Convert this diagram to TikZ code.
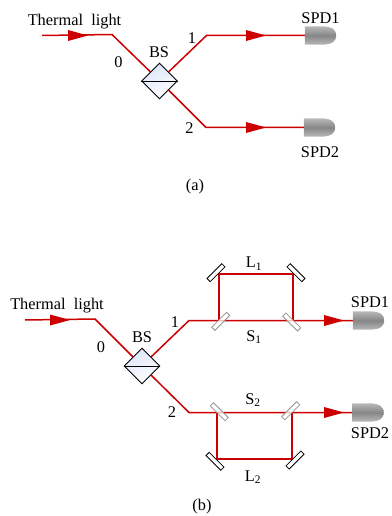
\documentclass[tikz,border=0pt]{standalone}
\usepackage{fontspec}
\setmainfont{Liberation Serif}
\usetikzlibrary{shapes.geometric,arrows.meta,calc}
\definecolor{beamred}{HTML}{CC0000}
\definecolor{bsblue}{HTML}{DCE5F8}
\tikzset{
  x=1bp,y=-1bp,
  beam/.style={draw=beamred,line width=1.5bp,line join=miter},
  loopbeam/.style={draw=beamred,line width=2bp,line join=miter},
  head/.style={fill=beamred,draw=none},
  lbl/.style={inner sep=0pt,font=\fontsize{16.4}{18}\selectfont},
  bsbox/.style={diamond,draw=black,line width=0.9pt,minimum width=36bp,minimum height=36bp,inner sep=0pt,shading=axis,left color=bsblue,right color=white,shading angle=25},
  mirror/.style={rectangle,draw=black,fill=white,line width=0.8pt,minimum width=21bp,minimum height=4.5bp,inner sep=0pt},
  split/.style={rectangle,draw=gray!85,fill=white,fill opacity=0.75,line width=0.8pt,minimum width=21bp,minimum height=4.5bp,inner sep=0pt},
  det/.style={rectangle,minimum width=31bp,minimum height=18bp,inner sep=0pt,draw=none},
}
\newcommand{\detshape}[1]{%
  \shade[top color=gray!55,bottom color=gray!55,middle color=gray!95!white]
    ($(#1.south west)$) -- ($(#1.north west)$) -- ($(#1.north west)+(16,0)$)
    .. controls ($(#1.north east)+(-4,0)$) and ($(#1.east)+(0,-6)$) .. (#1.east)
    .. controls ($(#1.east)+(0,6)$) and ($(#1.south east)+(-4,0)$) .. ($(#1.south west)+(16,0)$) -- cycle;}
\newcommand{\headat}[2]{\fill[head] (#1,#2-5.5) -- (#1+20,#2) -- (#1,#2+5.5) -- cycle;}
\begin{document}
\begin{tikzpicture}
\useasboundingbox (0,0) rectangle (391,516);
%% (a)
\coordinate (a0) at (42,35.5);
\coordinate (ac) at (112,34.5);
\node[bsbox] (abs) at (159.5,81) {};
\coordinate (au) at (206.5,35.5);
\coordinate (ad) at (206,127.5);
\node[det] (ad1) at (320.5,35.5) {};
\node[det] (ad2) at (319.5,127.5) {};
\draw[beam] (a0) -- (ac) -- (abs.north west);
\draw[beam] (abs.north east) -- (au) -- (ad1.west);
\draw[beam] (abs.south east) -- (ad) -- (ad2.west);
\headat{68}{35.5}
\headat{246}{35.5}
\headat{246}{127.5}
\draw[line width=0.9pt] (abs.west) -- (abs.east);
\detshape{ad1}\detshape{ad2}
\node[lbl] (t1) at (74.5,22) {Thermal\hspace{0.25em}\hspace{0.25em}light};
\node[lbl] (t2) at (118.5,62.5) {0};
\node[lbl] (t3) at (159,52.5) {BS};
\node[lbl] (t4) at (192,38) {1};
\node[lbl] (t5) at (189.5,128.5) {2};
\node[lbl] (t6) at (320.5,18.5) {SPD1};
\node[lbl] (t7) at (320,152) {SPD2};
\node[lbl] (t8) at (195,187) {(a)};
%% (b)
\coordinate (b0) at (25,320);
\coordinate (bc) at (95,319);
\node[bsbox] (bbs) at (142,366) {};
\coordinate (bu) at (189,320.5);
\coordinate (bd) at (189,412.5);
\node[det] (bd1) at (368.5,320.5) {};
\node[det] (bd2) at (368,412.5) {};
\draw[beam] (b0) -- (bc) -- (bbs.north west);
\draw[beam] (bbs.north east) -- (bu) -- (bd1.west);
\draw[beam] (bbs.south east) -- (bd) -- (bd2.west);
\headat{324}{320.5}
\headat{324}{412.5}
\headat{50}{320}
\draw[line width=0.9pt] (bbs.west) -- (bbs.east);
\coordinate (l1a) at (218.5,320.5);
\coordinate (l1b) at (218.5,273.5);
\coordinate (l1c) at (292.5,273.5);
\coordinate (l1d) at (292.5,320.5);
\draw[loopbeam] (l1a) -- (l1b) -- (l1c) -- (l1d);
\coordinate (l2a) at (216.5,412.5);
\coordinate (l2b) at (216.5,458.5);
\coordinate (l2c) at (291.5,458.5);
\coordinate (l2d) at (291.5,412.5);
\draw[loopbeam] (l2a) -- (l2b) -- (l2c) -- (l2d);
\node[mirror,rotate=45] (m1) at (216,272.7) {};
\node[mirror,rotate=-45] (m2) at (296,272.7) {};
\node[split,rotate=45] (s1) at (220.7,321.3) {};
\node[split,rotate=-45] (s2) at (291.7,322) {};
\node[split,rotate=-45] (s3) at (219.3,411.7) {};
\node[split,rotate=45] (s4) at (290.7,410.7) {};
\node[mirror,rotate=-45] (m3) at (215,461.3) {};
\node[mirror,rotate=45] (m4) at (295,460) {};
\detshape{bd1}\detshape{bd2}
\node[lbl] (u1) at (57,306) {Thermal\hspace{0.25em}\hspace{0.25em}light};
\node[lbl] (u2) at (101,347.5) {0};
\node[lbl] (u3) at (142,337) {BS};
\node[lbl] (u4) at (175,322.5) {1};
\node[lbl] (u5) at (172,412.5) {2};
\node[lbl] (u6) at (370,302.5) {SPD1};
\node[lbl] (u7) at (370,433.5) {SPD2};
\node[lbl] (u8) at (254,263.5) {L$_{\mathrm{1}}$};
\node[lbl] (u9) at (254,337) {S$_{\mathrm{1}}$};
\node[lbl] (u10) at (253,400) {S$_{\mathrm{2}}$};
\node[lbl] (u11) at (253,477) {L$_{\mathrm{2}}$};
\node[lbl] (u12) at (202,507) {(b)};
\end{tikzpicture}
\end{document}
